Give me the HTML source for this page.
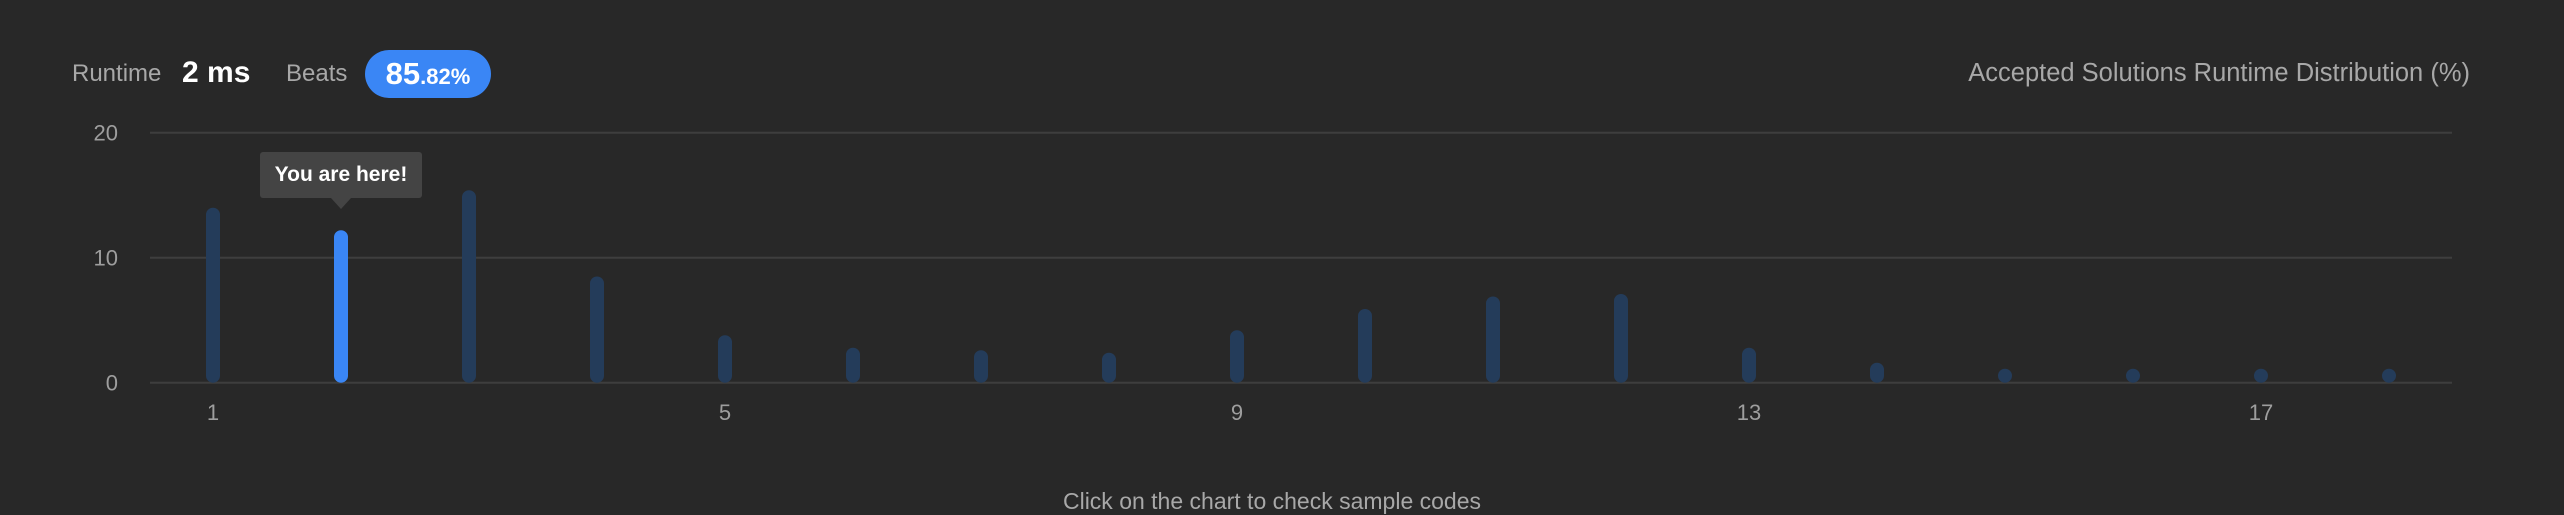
<!DOCTYPE html>
<html><head><meta charset="utf-8"><style>
html,body{margin:0;padding:0;background:#282828;}
body{width:2564px;height:508px;overflow:hidden;position:relative;font-family:"Liberation Sans",sans-serif;}
.t{position:absolute;white-space:nowrap;}
</style></head><body>
<div class="t" style="left:72px;top:60px;font-size:24px;color:#a8a8a8;">Runtime</div>
<div class="t" style="left:182px;top:56px;font-size:30px;color:#fff;font-weight:bold;">2 ms</div>
<div class="t" style="left:286px;top:60px;font-size:24px;color:#a8a8a8;">Beats</div>
<div class="t" style="left:365px;top:50px;width:126px;height:48px;border-radius:24px;background:#3a86f5;color:#fff;text-align:center;line-height:48px;font-weight:bold;"><span style="font-size:31px;">85</span><span style="font-size:22px;">.82%</span></div>
<div class="t" style="right:94px;top:59px;font-size:25.5px;color:#a8a8a8;">Accepted Solutions Runtime Distribution (%)</div>
<svg width="2564" height="508" style="position:absolute;left:0;top:0">
<g id="grid"></g><g id="bars"></g><g id="xt"></g>
</svg>
<div class="t" id="tip" style="top:152px;width:162px;height:46px;background:#444;border-radius:3px;color:#fff;font-size:21px;font-weight:bold;line-height:46px;text-align:center;">You are here!<div style="position:absolute;left:71px;top:46px;width:0;height:0;border-left:10px solid transparent;border-right:10px solid transparent;border-top:11px solid #444;"></div></div>
<div class="t" style="left:0;width:2544px;text-align:center;top:488px;font-size:23px;color:#a8a8a8;">Click on the chart to check sample codes</div>
<script>
const categories=[1,2,3,4,5,6,7,8,9,10,11,12,13,14,15,16,17,18];
const values=[14,12.2,15.4,8.5,3.8,2.8,2.6,2.4,4.2,5.9,6.9,7.1,2.8,1.6,0.5,0.5,0.5,0.5];
const yTicks=[0,10,20];
const xTickLabels=[1,5,9,13,17];
const highlight=2;
const NS='http://www.w3.org/2000/svg';
const x=c=>213+(c-1)*128;
const y=v=>382.7-v*12.5;
const g=document.getElementById('grid'),b=document.getElementById('bars'),xt=document.getElementById('xt');
yTicks.forEach(t=>{
 const l=document.createElementNS(NS,'line');
 l.setAttribute('x1',150);l.setAttribute('x2',2452);l.setAttribute('y1',y(t));l.setAttribute('y2',y(t));
 l.setAttribute('stroke','#3e3e3e');l.setAttribute('stroke-width',2);
 
 
 g.appendChild(l);
 const tx=document.createElementNS(NS,'text');
 tx.setAttribute('x',118);tx.setAttribute('y',y(t)+8);tx.setAttribute('text-anchor','end');
 tx.setAttribute('fill','#9e9e9e');tx.setAttribute('font-size','22');tx.setAttribute('font-family','Liberation Sans');
 tx.textContent=t;
 
 
 g.appendChild(tx);
});
categories.forEach((c,i)=>{
 const top=Math.min(y(values[i]),y(0)-14);
 const r=document.createElementNS(NS,'rect');
 r.setAttribute('x',x(c)-7);r.setAttribute('width',14);r.setAttribute('y',top);r.setAttribute('height',y(0)-top);
 r.setAttribute('rx',7);r.setAttribute('fill',c===highlight?'#3a86f5':'#243c5a');
 
 
 b.appendChild(r);
});
xTickLabels.forEach(c=>{
 const tx=document.createElementNS(NS,'text');
 tx.setAttribute('x',x(c));tx.setAttribute('y',420);tx.setAttribute('text-anchor','middle');
 tx.setAttribute('fill','#9e9e9e');tx.setAttribute('font-size','22');tx.setAttribute('font-family','Liberation Sans');
 tx.textContent=c;
 
 
 xt.appendChild(tx);
});
document.getElementById('tip').style.left=(x(highlight)-81)+'px';
</script>
</body></html>
